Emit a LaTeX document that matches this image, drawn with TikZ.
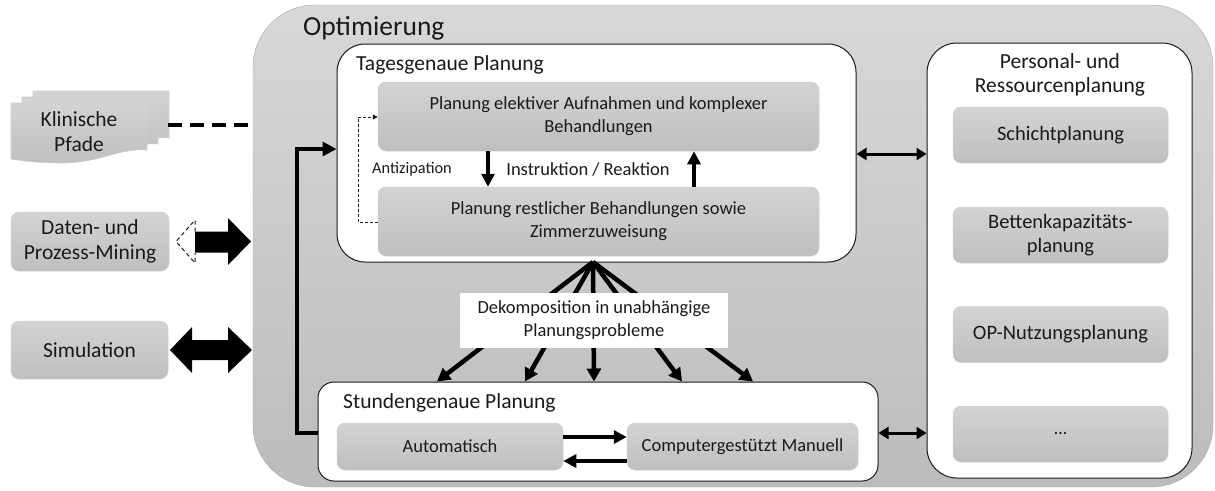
\documentclass[tikz,border=0pt]{standalone}
\usepackage{fontspec}
\setmainfont{Carlito}
\usetikzlibrary{arrows.meta,calc}
\definecolor{ink}{HTML}{1A1A1A}
\definecolor{bgtop}{HTML}{D8D8D8}
\definecolor{bgbot}{HTML}{BCBCBC}
\definecolor{boxtop}{HTML}{D3D3D3}
\definecolor{boxbot}{HTML}{BFBFBF}
\definecolor{boxline}{HTML}{D0D0D0}
\newcommand\setfs[2]{\fontsize{#1}{#2}\selectfont}
\tikzset{
  optbox/.style={rectangle, rounded corners=62pt, top color=bgtop, bottom color=bgbot,
    draw=bgbot!90!black, line width=0.4pt, minimum width=960pt, minimum height=482pt, inner sep=0pt},
  whitebox/.style={rectangle, fill=white, draw=ink, line width=1pt, inner sep=0pt},
  greybox/.style={rectangle, rounded corners=8pt, top color=boxtop, bottom color=boxbot,
    draw=boxline, line width=0.5pt, inner sep=0pt, align=center, text=ink},
  title/.style={anchor=base west, inner sep=0pt, text=ink, font=\setfs{21.5}{25}},
  thick arrow/.style={draw=black, line width=4pt, -{Triangle[length=13pt,width=13pt]}},
  fan arrow/.style={draw=black, line width=4.5pt, -{Triangle[length=13pt,width=14pt]}},
  link arrow/.style={draw=black, line width=3pt, {Triangle[length=10pt,width=12pt]}-{Triangle[length=10pt,width=12pt]}},
  hint arrow/.style={draw=ink, line width=1pt, dashed, dash pattern=on 3pt off 2pt, -{Triangle[length=5pt,width=5pt]}},
}
\begin{document}
\begin{tikzpicture}[x=1pt,y=-1pt]
\useasboundingbox (0,0) rectangle (1215,490);

% ---------- optimisation frame ----------
\node[optbox] (opt) at (733,246) {};
\node[anchor=base west, inner sep=0pt, text=ink, font=\setfs{27.5}{30}] (optt) at (303,35) {Optimierung};

% ---------- day-level planning ----------
\node[whitebox, rounded corners=28pt, minimum width=519pt, minimum height=218pt] (tag) at (596.5,153) {};
\node[title] (tagt) at (356,70) {Tagesgenaue Planung};
\node[greybox, minimum width=441pt, minimum height=69pt, font=\setfs{18.5}{23}] (elek) at (598.5,116.5)
  {Planung elektiver Aufnahmen und komplexer\\Behandlungen};
\node[greybox, minimum width=441pt, minimum height=69pt, font=\setfs{18.5}{23}] (rest) at (598.5,221.5)
  {Planung restlicher Behandlungen sowie\\Zimmerzuweisung};
\draw[thick arrow] (elek.south -| 488,0) -- (rest.north -| 488,0);
\draw[thick arrow] (rest.north -| 694,0) -- (elek.south -| 694,0);
\node[text=ink, font=\setfs{18.5}{22}, inner sep=0pt] (instr) at (588,169) {Instruktion / Reaktion};
\node[text=ink, font=\setfs{16.3}{19}, inner sep=0pt] (anti) at (412,169) {Antizipation};
\draw[hint arrow] (rest.west |- 0,222) -- (358,222) -- (358,117) -- (elek.west |- 0,117);

% ---------- hour-level planning ----------
\node[whitebox, rounded corners=16pt, minimum width=560pt, minimum height=99pt] (std) at (598,431.5) {};
\node[title] (stdt) at (343,408) {Stundengenaue Planung};
\node[greybox, minimum width=226pt, minimum height=47pt, font=\setfs{18.5}{22}] (auto) at (450,446.5) {Automatisch};
\node[greybox, minimum width=231pt, minimum height=47pt, font=\setfs{18.5}{22}] (manu) at (742.5,446.5) {Computergestützt Manuell};
\draw[thick arrow] (auto.east |- 0,437) -- (manu.west |- 0,437);
\draw[thick arrow] (manu.west |- 0,461) -- (auto.east |- 0,461);

% ---------- decomposition ----------
\coordinate (apex) at (593,262);
\foreach \x in {437,525,594,682,753}
  \draw[fan arrow] (apex) -- (std.north -| \x,0);
\node[rectangle, fill=white, draw=none, minimum width=268pt, minimum height=55pt, inner sep=0pt,
  align=center, text=ink, font=\setfs{18.5}{23}] (deko) at (594,320.5)
  {Dekomposition in unabhängige\\Planungsprobleme};

% feedback from hour-level to day-level planning
\draw[draw=black, line width=4pt, line join=miter, -{Triangle[length=14pt,width=14pt]}]
  (std.west |- 0,433) -- (297,433) -- (297,149) -- (tag.west |- 0,149);

% ---------- staff and resource planning ----------
\node[whitebox, rounded corners=30pt, minimum width=265pt, minimum height=435pt] (pers) at (1059.5,260.5) {};
\node[align=center, inner sep=0pt, text=ink, font=\setfs{21.5}{24.5}] (perst) at (1060,75)
  {Personal- und\\Ressourcenplanung};
\node[greybox, minimum width=215pt, minimum height=56pt, font=\setfs{20.5}{24.5}] (schicht) at (1060.5,135) {Schichtplanung};
\node[greybox, minimum width=215pt, minimum height=56pt, font=\setfs{20.5}{24.5}] (betten) at (1060.5,235) {Bettenkapazitäts-\\planung};
\node[greybox, minimum width=215pt, minimum height=56pt, font=\setfs{20.5}{24.5}] (opnutz) at (1060.5,334.5) {OP-Nutzungsplanung};
\node[greybox, minimum width=215pt, minimum height=56pt, font=\setfs{18}{22}] (more) at (1060.5,434) {\dots};

\draw[link arrow] (tag.east |- 0,154) -- (pers.west |- 0,154);
\draw[link arrow] (std.east |- 0,433) -- (pers.west |- 0,433);

% ---------- inputs on the left ----------
% stacked documents
\foreach \dx/\dy in {22/-12,11/-6,0/0}{
  \begin{scope}[shift={(\dx,\dy)}]
    \path[top color=boxtop, bottom color=boxbot, draw=boxline, line width=0.6pt]
      (11,103) -- (147,103) -- (147,150)
      .. controls (118,148) and (100,163) .. (62,163)
      .. controls (38,163) and (22,161) .. (11,159) -- cycle;
  \end{scope}
}
\node[align=center, inner sep=0pt, text=ink, font=\setfs{21.5}{25}] (kp) at (79,132) {Klinische\\Pfade};
\coordinate (kpR) at (168,125);
\draw[line width=4.5pt, dash pattern=on 14pt off 8pt] (kpR) -- (opt.west |- kpR);

\node[greybox, minimum width=158pt, minimum height=59pt, font=\setfs{21.5}{25}] (mining) at (90,241.5)
  {Daten- und\\Prozess-Mining};
\node[greybox, minimum width=157pt, minimum height=58pt, font=\setfs{21.5}{25}] (sim) at (89.5,350) {Simulation};

% block arrow from mining, with a dashed back head
\fill[black] (195,231.5) -- (228,231.5) -- (228,218) -- (251,241.5) -- (228,265) -- (228,252.5) -- (195,252.5) -- cycle;
\draw[ink, line width=1pt, dash pattern=on 4pt off 3pt] (195,231.5) -- (195,220) -- (176,241.5) -- (195,263) -- (195,252.5);

% double block arrow with simulation
\fill[black] (170,350) -- (192,327) -- (192,340) -- (228,340) -- (228,327) -- (252,350)
  -- (228,373) -- (228,360) -- (192,360) -- (192,373) -- cycle;
\end{tikzpicture}
\end{document}
